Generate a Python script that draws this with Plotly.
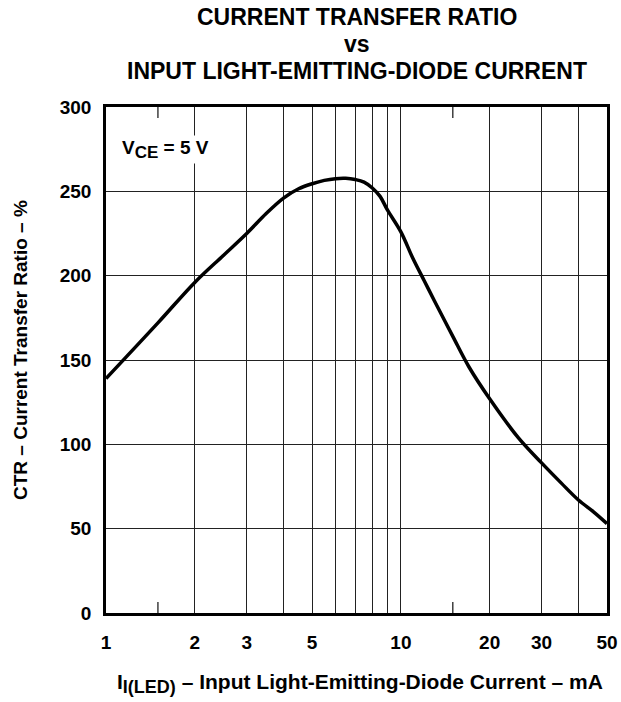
import plotly.graph_objects as go

# Data
i_led_ma = [1, 1.5, 2, 2.5, 3, 3.5, 4, 4.5, 5, 5.5, 6, 6.5, 7, 7.5, 8, 8.5, 9, 10,
            11, 12, 13, 15, 17, 20, 25, 30, 35, 40, 45, 50]
ctr_pct = [139, 172, 196, 212, 225, 237, 246, 251.5, 254.5, 256.5, 257.5, 257.7, 257,
           255.5, 252, 247, 239, 226, 210, 197, 185, 164, 146, 127, 104, 89, 77, 67, 60, 53]

x_grid_vals = [1, 2, 3, 4, 5, 6, 7, 8, 9, 10, 20, 30, 40, 50]
x_grid_text = ["1", "2", "3", "", "5", "", "", "", "", "10", "20", "30", "", "50"]
x_minor_ticks = [1.5, 15]
y_tick_vals = [0, 50, 100, 150, 200, 250, 300]
title_lines = ["CURRENT TRANSFER RATIO", "vs", "INPUT LIGHT-EMITTING-DIODE CURRENT"]
x_title = ("I<sub><span style='font-size:18px'>I(LED)</span></sub>"
           " – Input Light-Emitting-Diode Current – mA")
y_title = "CTR – Current Transfer Ratio – %"
condition = "V<sub><span style='font-size:17px'>CE</span></sub> = 5 V"

FONT = "Liberation Sans, Arial, sans-serif"
L, R, T, B = 106, 14, 107, 89
PW, PH = 621 - L - R, 702 - T - B

fig = go.Figure()
fig.add_trace(go.Scatter(
    x=i_led_ma, y=ctr_pct, mode="lines",
    line=dict(color="black", width=3.5, shape="spline", smoothing=1),
    showlegend=False, hoverinfo="skip",
))

fig.update_layout(
    width=621, height=702,
    margin=dict(l=L, r=R, t=T, b=B, autoexpand=False),
    paper_bgcolor="white", plot_bgcolor="white",
    font=dict(family=FONT, color="black"),
    xaxis=dict(
        type="log", range=[0, 1.69897],
        tickvals=x_grid_vals, ticktext=x_grid_text,
        tickfont=dict(size=19, family=FONT, weight="bold"),
        showgrid=True, gridcolor="#222", gridwidth=1.3,
        showline=True, linecolor="black", linewidth=2.5, mirror=True,
        ticks="", ticklabelstandoff=10, automargin=False,
        zeroline=False,
    ),
    yaxis=dict(
        range=[0, 300], tickvals=y_tick_vals,
        tickfont=dict(size=19, family=FONT, weight="bold"),
        showgrid=True, gridcolor="#222", gridwidth=1.3,
        showline=True, linecolor="black", linewidth=2.5, mirror=True,
        ticks="", ticklabelstandoff=8, automargin=False,
        zeroline=False,
    ),
)

# short inside ticks at 1.5 and 15 on bottom and top edges
tick_frac = 11 / PH
for xv in x_minor_ticks:
    for y0, y1 in [(0, tick_frac), (1 - tick_frac, 1)]:
        fig.add_shape(type="line", xref="x", yref="paper", x0=xv, x1=xv,
                      y0=y0, y1=y1, line=dict(color="#222", width=1.3))

for txt, yy in zip(title_lines, [17, 44, 71]):
    fig.add_annotation(
        text=txt, xref="paper", x=0.5, yref="paper",
        y=1 + (T - yy) / PH, yanchor="middle", xanchor="center",
        showarrow=False, font=dict(size=23, family=FONT, weight="bold"),
    )

fig.add_annotation(
    text=x_title, xref="paper", yref="paper",
    x=(360 - L) / PW, y=(702 - B - 683) / PH, xanchor="center", yanchor="middle",
    showarrow=False, font=dict(size=21, family=FONT, weight="bold"),
)
fig.add_annotation(
    text=y_title, xref="paper", yref="paper", textangle=-90,
    x=(20 - L) / PW, y=(702 - B - 350) / PH, xanchor="center", yanchor="middle",
    showarrow=False, font=dict(size=19, family=FONT, weight="bold"),
)
fig.add_annotation(
    text=condition, xref="paper", yref="paper",
    x=(120 - L) / PW, y=(702 - B - 150) / PH, xanchor="left", yanchor="middle",
    showarrow=False, bgcolor="white",
    font=dict(size=19, family=FONT, weight="bold"),
)

fig.write_html("out.html", config={"displayModeBar": False},
               post_script="document.body.style.margin='0';")
